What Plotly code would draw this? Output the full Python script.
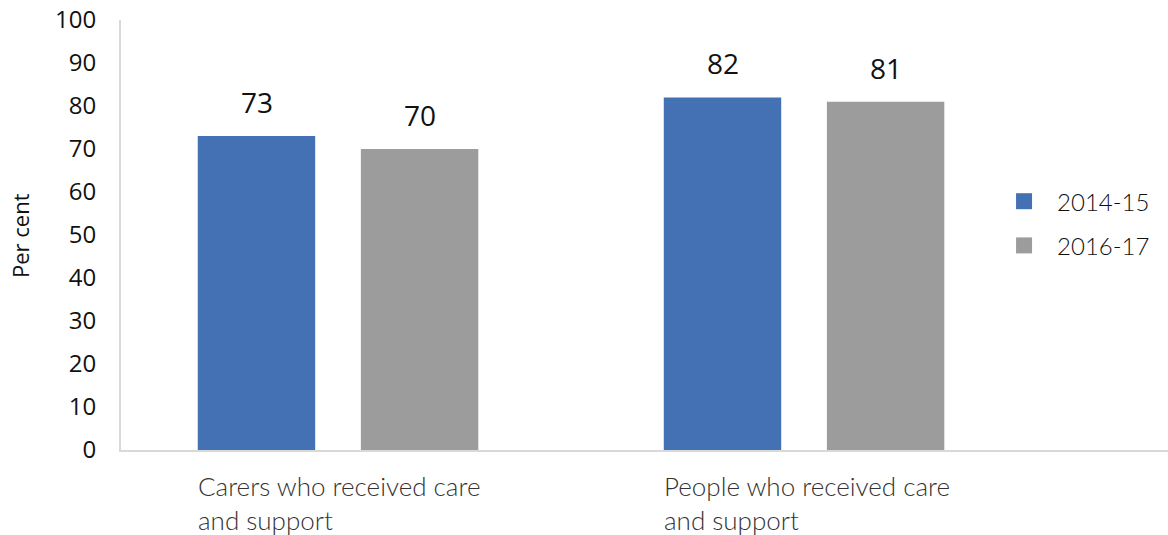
import plotly.graph_objects as go

categories = ["Carers who received care<br>and support", "People who received care<br>and support"]
series_names = ["2014-15", "2016-17"]
values_2014 = [73, 82]
values_2016 = [70, 81]
y_ticks = list(range(0, 101, 10))

colors = ["#4470B4", "#9C9C9C"]
num_font = "Open Sans"
label_font = "Lato"

x_idx = list(range(len(categories)))

fig = go.Figure()
for name, vals, col in zip(series_names, [values_2014, values_2016], colors):
    fig.add_trace(go.Bar(
        x=x_idx, y=vals, name=name, marker_color=col,
        marker_line_width=0, showlegend=False,
    ))
    # legend entry drawn as a larger square swatch
    fig.add_trace(go.Scatter(
        x=[None], y=[None], mode="markers", name=name, legendgroup=name,
        marker=dict(symbol="square", size=16, color=col),
    ))

# value labels above each bar (bar centres sit +/- 81.5 px from the category centre)
shifts = [-81.5, 81.5]
for vals, sh in zip([values_2014, values_2016], shifts):
    for xi, v in zip(x_idx, vals):
        fig.add_annotation(
            x=xi, y=v, text=str(v), showarrow=False,
            xshift=sh, yanchor="bottom", yshift=13,
            font=dict(family=num_font, size=28, color="#111111"),
        )

# category labels, left aligned with the first bar of each group
for xi, cat in zip(x_idx, categories):
    fig.add_annotation(
        x=xi, y=0, xref="x", yref="paper", text=cat, showarrow=False,
        xshift=-142, xanchor="left", yanchor="top", yshift=-18, align="left",
        font=dict(family=label_font, size=26, color="#333333", weight=300),
    )

# y axis title
fig.add_annotation(
    xref="paper", yref="paper", x=-0.0965, y=0.5, xanchor="center", yanchor="middle",
    text="Per cent", textangle=-90, showarrow=False,
    font=dict(family=num_font, size=22, color="#111111"),
)

fig.update_layout(
    width=1168, height=535,
    margin=dict(l=121, r=0, t=20, b=85),
    paper_bgcolor="white", plot_bgcolor="white",
    barmode="group", bargap=0.30, bargroupgap=0.28,
    showlegend=True,
    legend=dict(
        x=0.831, y=0.63, xanchor="left", yanchor="top",
        font=dict(family=label_font, size=24, color="#111111", weight=300),
        tracegroupgap=10, itemwidth=56, itemsizing="trace",
    ),
    xaxis=dict(
        range=[-0.4657, 1.781], showticklabels=False, ticks="",
        showgrid=False, zeroline=False,
        showline=True, linecolor="#D9D9D9", linewidth=2,
    ),
    yaxis=dict(
        range=[0, 100], tickvals=y_ticks, showgrid=False, zeroline=False,
        showline=True, linecolor="#D9D9D9", linewidth=2,
        ticks="", ticklabelstandoff=18,
        tickfont=dict(family=num_font, size=24, color="#111111"),
    ),
)

fig.write_html("out.html")
